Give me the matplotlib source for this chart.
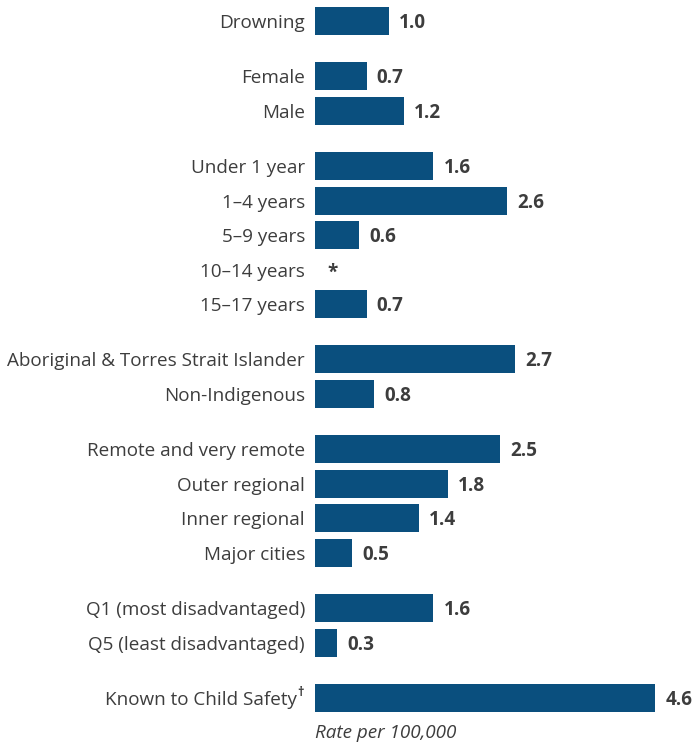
import matplotlib
matplotlib.use("Agg")
import matplotlib.pyplot as plt
from matplotlib.transforms import offset_copy

plt.rcParams['font.family'] = ['Open Sans', 'DejaVu Sans']

groups = [
    ["Drowning"],
    ["Female", "Male"],
    ["Under 1 year", "1\u20134 years", "5\u20139 years", "10\u201314 years", "15\u201317 years"],
    ["Aboriginal & Torres Strait Islander", "Non-Indigenous"],
    ["Remote and very remote", "Outer regional", "Inner regional", "Major cities"],
    ["Q1 (most disadvantaged)", "Q5 (least disadvantaged)"],
    ["Known to Child Safety"],
]
values = [
    [1.0],
    [0.7, 1.2],
    [1.6, 2.6, 0.6, None, 0.7],
    [2.7, 0.8],
    [2.5, 1.8, 1.4, 0.5],
    [1.6, 0.3],
    [4.6],
]
axis_label = "Rate per 100,000"

BAR = "#0a4f7e"
TXT = "#3d3d3d"
W, H, DPI = 693, 744, 100
fig = plt.figure(figsize=(W / DPI, H / DPI), dpi=DPI)
left_px = 315
px_per_unit = 74.0
ax = fig.add_axes([left_px / W, 0, (W - left_px) / W, 1])
ax.set_xlim(0, (W - left_px) / px_per_unit)
pitch = 34.5
first = 21.0
gap_step = 55.3 / pitch
ax.set_ylim((H - first) / pitch, -first / pitch)
ax.axis('off')

pos = 0.0
ys, labs, vals = [], [], []
for gi, (g, v) in enumerate(zip(groups, values)):
    if gi > 0:
        pos += gap_step
    for j, (l, val) in enumerate(zip(g, v)):
        if j > 0:
            pos += 1
        ys.append(pos); labs.append(l); vals.append(val)

dy = -2
lab_tr = offset_copy(ax.transData, fig=fig, x=-10, y=dy, units='dots')
val_tr = offset_copy(ax.transData, fig=fig, x=10, y=dy, units='dots')
fs = 13.6
for y, l, val in zip(ys, labs, vals):
    if val is not None:
        ax.barh(y, val, height=28 / pitch, color=BAR, left=0)
        ax.text(val, y, f"{val:.1f}", transform=val_tr, ha='left', va='center',
                fontsize=fs, fontweight='bold', color=TXT)
    else:
        ax.text(0, y, "*", transform=offset_copy(ax.transData, fig=fig, x=18, y=-3, units='dots'),
                ha='center', va='center', fontsize=fs, fontweight='bold', color=TXT)
    if l == "Known to Child Safety":
        ax.text(0, y, l, transform=offset_copy(ax.transData, fig=fig, x=-18, y=dy, units='dots'),
                ha='right', va='center', fontsize=fs, color=TXT)
        ax.text(0, y, "\u2020", transform=offset_copy(ax.transData, fig=fig, x=-11, y=5, units='dots'),
                ha='right', va='center', fontsize=9, fontweight='bold', color=TXT)
    else:
        ax.text(0, y, l, transform=lab_tr, ha='right', va='center', fontsize=fs, color=TXT)

ax.text(0, ys[-1] + 1.0, axis_label, transform=offset_copy(ax.transData, fig=fig, x=0, y=-1, units='dots'),
        ha='left', va='center', fontsize=fs, style='italic', color=TXT)

fig.savefig("out.png", dpi=DPI)
